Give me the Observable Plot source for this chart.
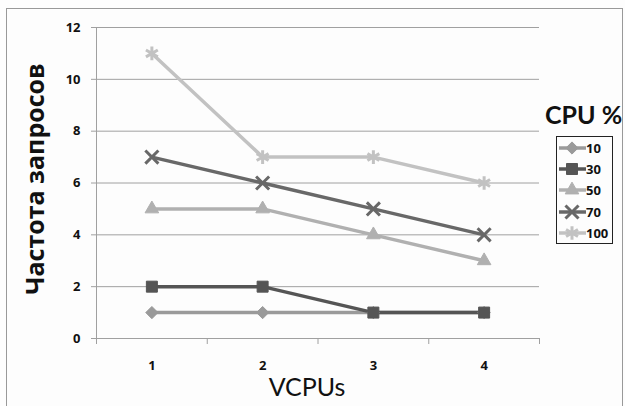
<!DOCTYPE html>
<html><head><meta charset="utf-8">
<script src="https://cdn.jsdelivr.net/npm/d3@7"></script>
<script src="https://cdn.jsdelivr.net/npm/@observablehq/plot@0.6"></script>
<style>
body{margin:0;background:#fff;font-family:Lato,"Open Sans",sans-serif;}
#wrap{position:relative;width:625px;height:406px;overflow:hidden;background:#fdfdfd;}
#frame{position:absolute;left:6px;top:8px;width:617px;height:410px;border:1px solid #999;box-sizing:border-box;}
#chart{position:absolute;left:0;top:0;}
#ltitle{position:absolute;left:545px;top:99px;font-size:25px;font-weight:bold;color:#111;white-space:nowrap;}
#legend{position:absolute;left:556px;top:136px;width:57px;height:108px;border:1px solid #222;box-sizing:border-box;background:#fdfdfd;}
.item{position:absolute;left:1px;height:20px;display:flex;align-items:center;font-size:13px;font-weight:bold;color:#111;font-family:"Open Sans",sans-serif;}
.item svg{display:block;}
</style></head>
<body><div id="wrap"><div id="frame"></div><div id="chart"></div><div id="ltitle">CPU %</div><div id="legend"></div></div>
<script>
const vcpus = [1, 2, 3, 4];
const seriesNames = ["10", "30", "50", "70", "100"];
const s10 = [1, 1, 1, 1];
const s30 = [2, 2, 1, 1];
const s50 = [5, 5, 4, 3];
const s70 = [7, 6, 5, 4];
const s100 = [11, 7, 7, 6];
const yTicks = [0, 2, 4, 6, 8, 10, 12];
const xTitle = "VCPUs";
const yTitle = "Частота запросов";
const legendTitle = "CPU %";

const values = [s10, s30, s50, s70, s100];
const colors = ["#9a9a9a", "#555555", "#b0b0b0", "#686868", "#c2c2c2"];
const symbols = ["diamond2", "square2", "triangle2", "times", "asterisk"];
const radii = [5.5, 7, 6.5, 6, 6.5];

const rows = [];
seriesNames.forEach((s, i) => values[i].forEach((v, j) => rows.push({series: s, vcpu: vcpus[j], value: v})));
const bounds = d3.range(0.5, vcpus.length + 1, 1);

const dotMarks = seriesNames.map((s, i) => Plot.dot(rows.filter(d => d.series === s), {
  x: "vcpu", y: "value", symbol: () => symbols[i], r: radii[i],
  fill: (symbols[i] === "times" || symbols[i] === "asterisk") ? "none" : colors[i],
  stroke: colors[i], strokeWidth: (symbols[i] === "times" || symbols[i] === "asterisk") ? 3 : 1
}));

const chart = Plot.plot({
  width: 625, height: 406,
  marginLeft: 96, marginRight: 86, marginTop: 27, marginBottom: 68,
  x: {type: "linear", domain: [0.5, vcpus.length + 0.5]},
  y: {domain: [0, 12]},
  symbol: {type: "identity"},
  style: {background: "transparent", fontFamily: "'Open Sans', sans-serif", fontWeight: "bold", color: "#111"},
  marks: [
    Plot.gridY(yTicks, {stroke: "#a0a0a0", strokeOpacity: 1}),
    Plot.ruleX([0.5], {stroke: "#a0a0a0"}),
    Plot.axisY(yTicks, {tickSize: 5, tickPadding: 11, fontSize: 13, label: null, stroke: "#a0a0a0", fill: "#111"}),
    Plot.axisX(bounds, {tickSize: 6, tickFormat: () => "", label: null, stroke: "#a0a0a0"}),
    Plot.axisX(vcpus, {tickSize: 0, tickPadding: 22, fontSize: 13, label: null, fill: "#111"}),
    ...seriesNames.map((s, i) => Plot.line(rows.filter(d => d.series === s), {x: "vcpu", y: "value", stroke: colors[i], strokeWidth: 3.5})),
    ...dotMarks,
    Plot.text([xTitle], {frameAnchor: "bottom", textAnchor: "middle", dx: -11, dy: 57, lineAnchor: "bottom", fontSize: 25, fontWeight: "normal", fontFamily: "Lato, sans-serif", fill: "#111"}),
    Plot.text([yTitle], {frameAnchor: "left", textAnchor: "middle", lineAnchor: "middle", rotate: -90, dx: -61, dy: -4, fontSize: 25, fontWeight: "bold", fill: "#111"})
  ]
});
document.getElementById("chart").appendChild(chart);

document.getElementById("ltitle").textContent = legendTitle;
const legend = d3.select("#legend");
const tops = [148, 169, 190, 212, 233];
seriesNames.forEach((s, i) => {
  const item = legend.append("div").attr("class", "item").style("top", (tops[i] - 136 - 1 - 10) + "px");
  const svg = item.append("svg").attr("width", 28).attr("height", 20);
  svg.append("line").attr("x1", 1).attr("x2", 28).attr("y1", 10).attr("y2", 10).attr("stroke", colors[i]).attr("stroke-width", 3.5);
  const symMap = {diamond2: d3.symbolDiamond2, square2: d3.symbolSquare2, triangle2: d3.symbolTriangle2, times: d3.symbolTimes, asterisk: d3.symbolAsterisk};
  const open = symbols[i] === "times" || symbols[i] === "asterisk";
  svg.append("path").attr("transform", "translate(14,10)")
    .attr("d", d3.symbol(symMap[symbols[i]], Math.PI * radii[i] * radii[i]))
    .attr("fill", open ? "none" : colors[i]).attr("stroke", colors[i]).attr("stroke-width", open ? 3 : 1);
  item.append("span").text(s);
});
</script>
</body></html>
